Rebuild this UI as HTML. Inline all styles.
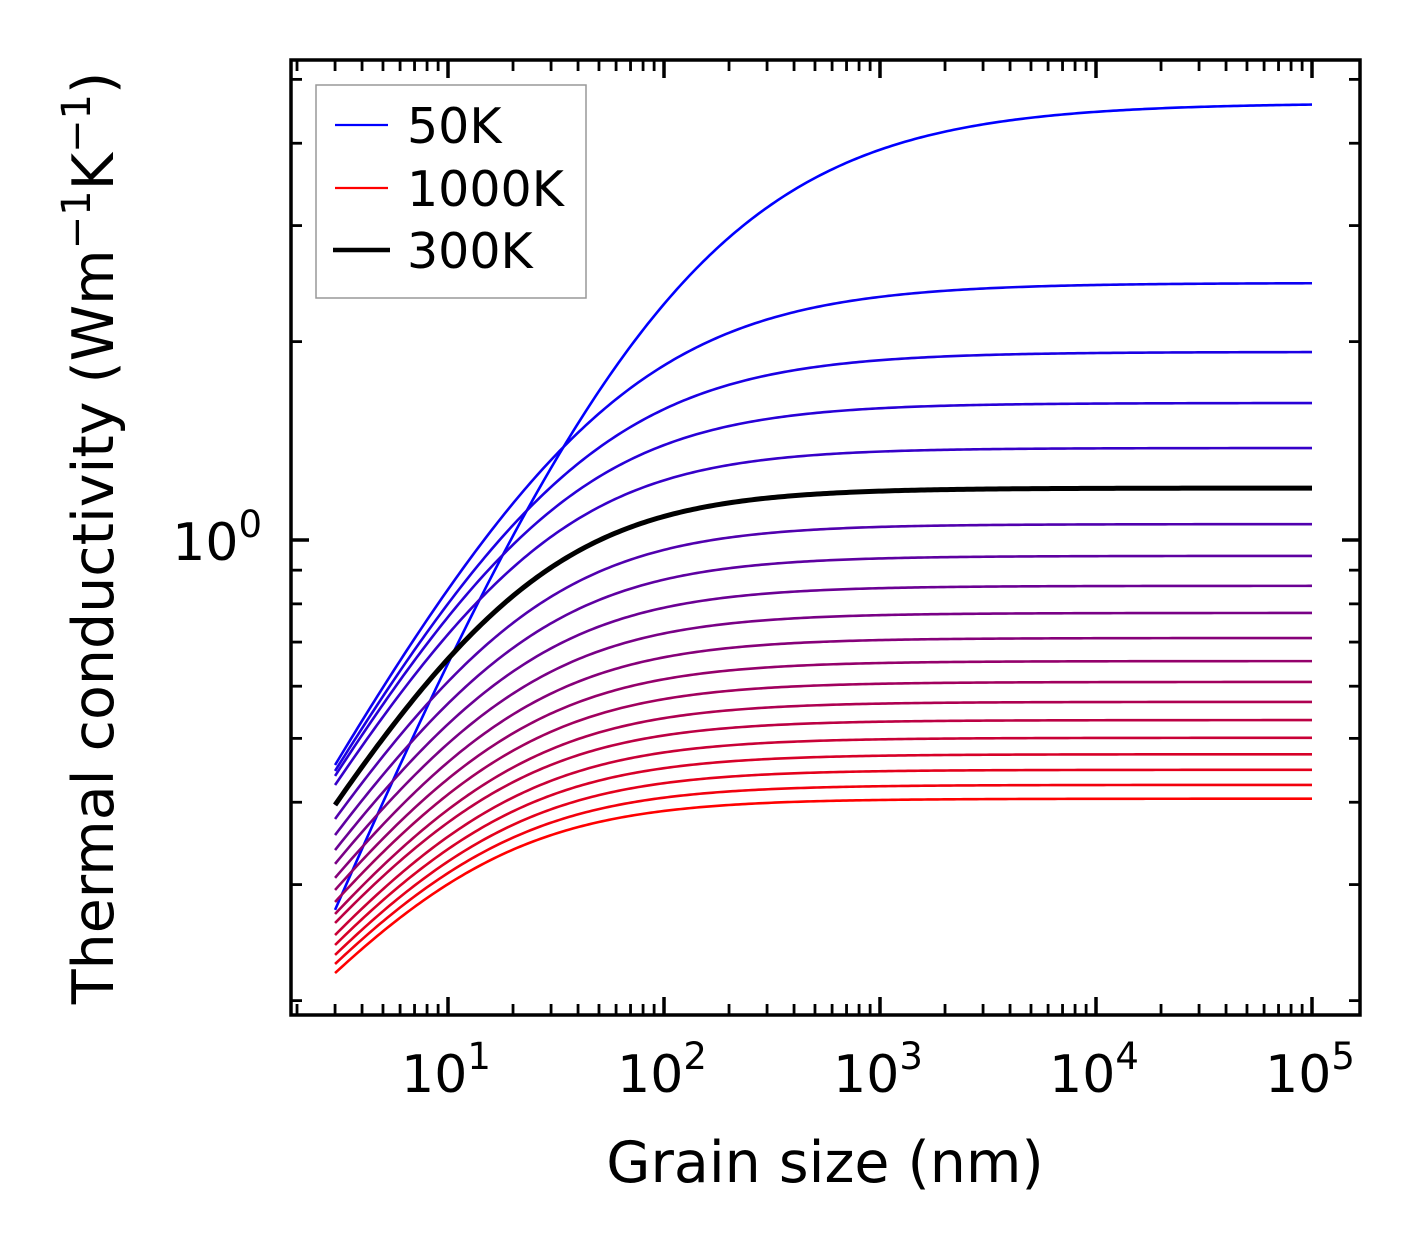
<!DOCTYPE html>
<html><head><meta charset="utf-8"><style>
html,body{margin:0;padding:0;background:#fff;}
svg{display:block;font-family:"DejaVu Sans","Liberation Sans",sans-serif;}
</style></head><body>
<svg id="chart" width="1421" height="1254" viewBox="0 0 1421 1254" xmlns="http://www.w3.org/2000/svg">
<g id="curves"></g>
<g id="axes"></g>
<g id="legend">
  <rect x="316" y="85" width="270" height="213" fill="#fff" stroke="#999" stroke-width="1.5"/>
  <line x1="335" y1="125" x2="388" y2="125" stroke="#0000ff" stroke-width="2.2"/>
  <text x="407" y="143" font-size="49">50K</text>
  <line x1="335" y1="188" x2="388" y2="188" stroke="#ff0000" stroke-width="2.2"/>
  <text x="407" y="206" font-size="49">1000K</text>
  <line x1="333" y1="250" x2="390" y2="250" stroke="#000" stroke-width="4.5"/>
  <text x="407" y="268" font-size="49">300K</text>
</g>
<text x="825" y="1182" font-size="57" text-anchor="middle">Grain size (nm)</text>
<text transform="translate(113,538) rotate(-90)" font-size="57" text-anchor="middle">Thermal conductivity (Wm<tspan dy="-23" font-size="40">−1</tspan><tspan dy="23">K</tspan><tspan dy="-23" font-size="40">−1</tspan><tspan dy="23">)</tspan></text>
</svg>
<script>
// ---- data ----
const temperatures = [50,100,150,200,250,300,350,400,450,500,550,600,650,700,750,800,850,900,950,1000];
const kBulk = [4.604,2.455,1.929,1.614,1.379,1.199,1.057,0.946,0.852,0.775,0.710,0.655,0.609,0.568,0.533,0.501,0.473,0.448,0.425,0.405];
const kAt3nm = [0.2746,0.4556,0.4462,0.4385,0.4248,0.3962,0.3773,0.3567,0.3385,0.3225,0.3071,0.2944,0.2823,0.2707,0.2623,0.2515,0.2429,0.2346,0.2273,0.2202];
const lengthScale = [90,45,32,26,23,20,19,18,17,16.5,16,15.5,15,14.5,14,13.5,13,12.7,12.3,12];
const shapeExponent = [0.75,0.85,0.9,0.95,1,1,1,1,1,1,1,1,1,1,1,1,1,1,1,1];
const minGrain = 3, maxGrain = 100000;
const highlightT = 300;
const xTickExps = [1,2,3,4,5];
const yMinorTicks = [0.2,0.3,0.4,0.5,0.6,0.7,0.8,0.9,2,3,4,5];

// ---- axes ----
const PL=291,PR=1360,PT=60,PB=1015;
const xPerDec=216, x10=448;
const yPerDec=659, y1=540;
function xs(v){return x10+(Math.log10(v)-1)*xPerDec;}
function ys(v){return y1-Math.log10(v)*yPerDec;}
const NS="http://www.w3.org/2000/svg";
function mk(tag,attrs,parent){const e=document.createElementNS(NS,tag);for(const k in attrs)e.setAttribute(k,attrs[k]);parent.appendChild(e);return e;}

// k(L) = kBulk * (1+(Lc/L)^a)^(-q), q fixed so that k(3nm) = kAt3nm
function curvePath(idx){
  const kb=kBulk[idx], k3=kAt3nm[idx], Lc=lengthScale[idx], a=shapeExponent[idx];
  const q=Math.log(kb/k3)/Math.log(1+Math.pow(Lc/minGrain,a));
  const la=Math.log10(minGrain), lb=Math.log10(maxGrain), n=300;
  let d='';
  for(let j=0;j<=n;j++){
    const L=Math.pow(10,la+(lb-la)*j/n);
    const k=kb*Math.pow(1+Math.pow(Lc/L,a),-q);
    d+=(j?'L':'M')+xs(L).toFixed(2)+','+ys(k).toFixed(2);
  }
  return d;
}
const cg=document.getElementById('curves');
temperatures.forEach((T,i)=>{
  const t=i/(temperatures.length-1);
  const col=`rgb(${Math.round(255*t)},0,${Math.round(255*(1-t))})`;
  const p=mk('path',{d:curvePath(i),fill:'none',stroke:col,'stroke-width':2.6},cg);
  
  
});
const hi=temperatures.indexOf(highlightT);
const hp=mk('path',{d:curvePath(hi),fill:'none',stroke:'#000','stroke-width':5},cg);



// frame & ticks
const ag=document.getElementById('axes');
const fr=mk('rect',{x:PL,y:PT,width:PR-PL,height:PB-PT,fill:'none',stroke:'#000','stroke-width':3.5},ag);


function tick(x1,y1_,x2,y2,w,name){const l=mk('line',{x1:x1,y1:y1_,x2:x2,y2:y2,stroke:'#000','stroke-width':w},ag);}
const xmin=Math.pow(10,1-(x10-PL)/xPerDec), xmax=Math.pow(10,1+(PR-x10)/xPerDec);
for(let e=0;e<=5;e++){
  for(let m=1;m<=9;m++){
    const v=m*Math.pow(10,e); if(v<xmin||v>xmax) continue;
    const x=xs(v), L=(m===1)?18:11, w=(m===1)?3.5:2.8;
    tick(x,PB,x,PB-L,w,'x-tick');
    tick(x,PT,x,PT+L,w,'x-tick-top');
  }
}
xTickExps.forEach(e=>{
  const t=mk('text',{x:xs(Math.pow(10,e))-2,y:1092,'font-size':52,'text-anchor':'middle'},ag);
  t.innerHTML='10<tspan dy="-23" font-size="37">'+e+'</tspan>';
  
  
});
tick(PL,ys(1),PL+18,ys(1),3.5,'y-tick');
tick(PR,ys(1),PR-18,ys(1),3.5,'y-tick-right');
yMinorTicks.forEach(v=>{
  tick(PL,ys(v),PL+11,ys(v),2.8,'y-minor-tick');
  tick(PR,ys(v),PR-11,ys(v),2.8,'y-minor-tick-right');
});
const yl=mk('text',{x:262,y:ys(1)+20,'font-size':52,'text-anchor':'end'},ag);
yl.innerHTML='10<tspan dy="-23" font-size="37">0</tspan>';


</script>
</body></html>
